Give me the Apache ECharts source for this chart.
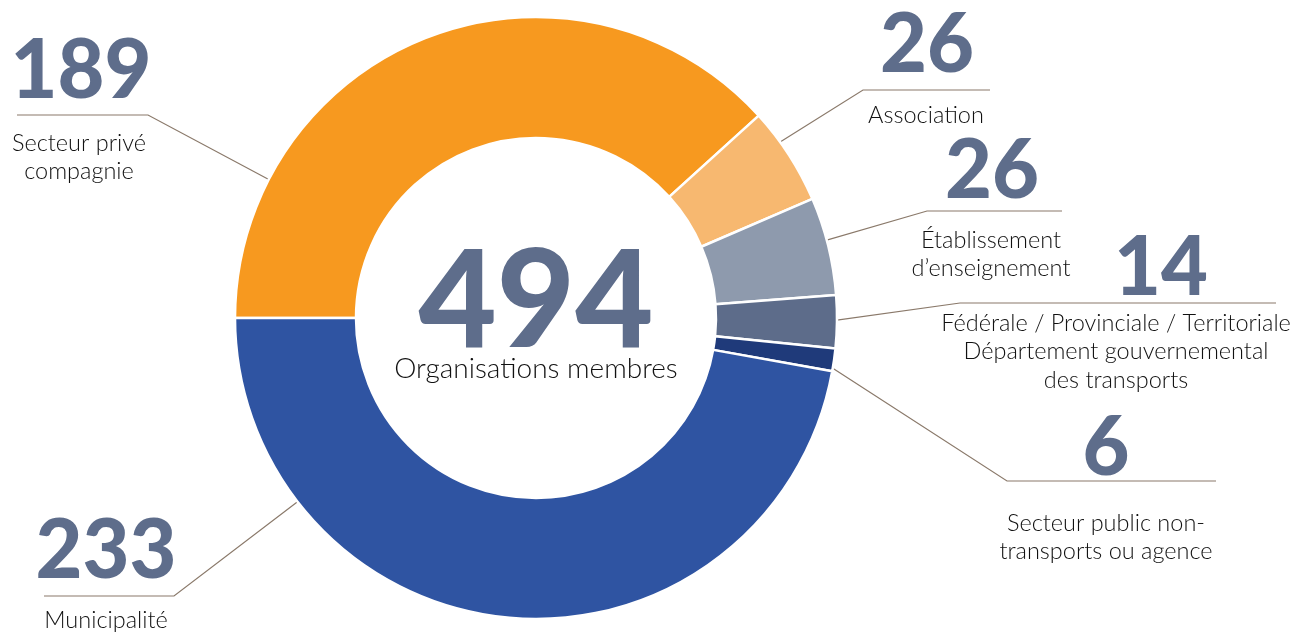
<!DOCTYPE html>
<html>
<head>
<meta charset="utf-8">
<script src="https://cdn.jsdelivr.net/npm/echarts@6/dist/echarts.min.js"></script>
<style>
html,body{margin:0;padding:0;background:#fff;}
#chart{width:1294px;height:633px;}
</style>
</head>
<body>
<div id="chart"></div>
<script>
// ---- Data ----
const categories = [
  'Secteur privé\ncompagnie',
  'Association',
  'Établissement\nd’enseignement',
  'Fédérale / Provinciale / Territoriale\nDépartement gouvernemental\ndes transports',
  'Secteur public non-\ntransports ou agence',
  'Municipalité'
];
const values = [189, 26, 26, 14, 6, 233];
const centerCaption = 'Organisations membres';

// ---- Styles / layout ----
const colors = ['#F7991F', '#F7B870', '#8E9AAD', '#5D6C8A', '#1F3A7A', '#2F54A2'];
const numColor = '#5E6D8B';
const lineColor = '#8A796A';
const CX = 536, CY = 318, R_IN = 180, R_OUT = 301;
const FONT = 'Lato, "Open Sans", sans-serif';

const labelPos = [
  {x: 79,   y: 15,  gap: 114, shift: 4,  start: 152.6, elbow: [148, 115], end: [17, 115]},
  {x: 926,  y: -9,  gap: 110, shift: 2,  start: 35.8,  elbow: [863, 90],  end: [990, 90]},
  {x: 991,  y: 118, gap: 108, shift: 2,  start: 15,    elbow: [927, 211], end: [1062, 211]},
  {x: 1116, y: 229, gap: 80,  shift: 90, start: -0.4,  elbow: [960, 303], end: [1276, 303]},
  {x: 1106, y: 389, gap: 120, shift: 0,  start: -9.6,  elbow: [1007, 481], end: [1216, 481]},
  {x: 106,  y: 498, gap: 108, shift: 0,  start: 217.6, elbow: [174, 596], end: [44, 596]}
];

const rich = {
  t: {fontFamily: FONT, fontSize: 23.5, fontWeight: 300, lineHeight: 28.5, color: '#111111'}
};
labelPos.forEach((p, i) => {
  rich['n' + i] = {fontFamily: FONT, fontSize: 81, fontWeight: 900, color: numColor,
                   lineHeight: p.gap, padding: [0, 0, 0, p.shift]};
});

const total = values.reduce((a, b) => a + b, 0);

const chart = echarts.init(document.getElementById('chart'), null, {renderer: 'canvas'});
chart.setOption({
  animation: false,
  backgroundColor: '#ffffff',
  series: [
    {
      type: 'pie',
      silent: true,
      center: [CX, CY],
      radius: [0, R_IN - 10],
      itemStyle: {color: 'rgba(0,0,0,0)'},
      label: {
        show: true,
        position: 'center',
        formatter: '{big|' + total + '}\n{sub|' + centerCaption + '}',
        rich: {
          big: {fontFamily: FONT, fontSize: 135, fontWeight: 900, color: numColor, lineHeight: 118},
          sub: {fontFamily: FONT, fontSize: 28, fontWeight: 300, color: '#111111', lineHeight: 30, padding: [0, 0, 16, 0]}
        }
      },
      labelLine: {show: false},
      data: [{value: total, name: 'total'}]
    },
    {
      type: 'pie',
      silent: true,
      center: [CX, CY],
      radius: [R_IN, R_OUT],
      startAngle: 180,
      clockwise: true,
      avoidLabelOverlap: false,
      emphasis: {scale: false},
      itemStyle: {borderColor: '#ffffff', borderWidth: 2.5},
      label: {
        show: true,
        position: 'outside',
        formatter: (params) => {
          const i = params.dataIndex;
          return '{n' + i + '|' + params.value + '}\n' +
            params.name.split('\n').map(s => '{t|' + s + '}').join('\n');
        },
        align: 'center',
        rich: rich
      },
      labelLine: {show: true, lineStyle: {color: lineColor, width: 1.2}},
      labelLayout: (params) => {
        const p = labelPos[params.dataIndex];
        const a = p.start * Math.PI / 180;
        const s = [CX + R_OUT * Math.cos(a), CY - R_OUT * Math.sin(a)];
        return {
          x: p.x, y: p.y, align: 'center', verticalAlign: 'top',
          labelLinePoints: [s, p.elbow, p.end]
        };
      },
      data: categories.map((c, i) => ({name: c, value: values[i], itemStyle: {color: colors[i]}}))
    }
  ]
});
</script>
</body>
</html>
